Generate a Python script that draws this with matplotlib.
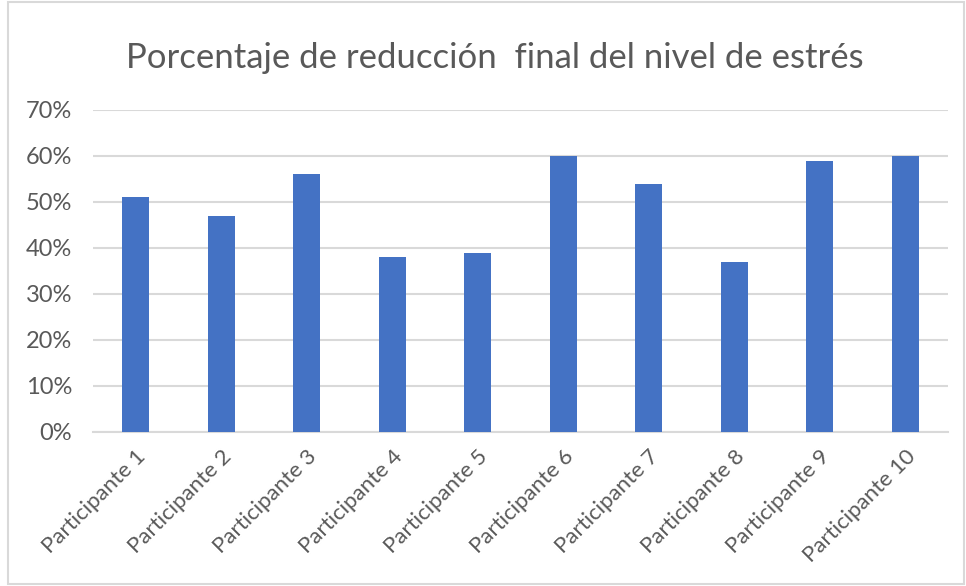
import matplotlib.pyplot as plt
from matplotlib.patches import Rectangle
from matplotlib.ticker import PercentFormatter

participantes = ["Participante 1", "Participante 2", "Participante 3", "Participante 4",
                 "Participante 5", "Participante 6", "Participante 7", "Participante 8",
                 "Participante 9", "Participante 10"]
reduccion = [0.51, 0.47, 0.56, 0.38, 0.39, 0.60, 0.54, 0.37, 0.59, 0.60]
y_ticks = [0.0, 0.1, 0.2, 0.3, 0.4, 0.5, 0.6, 0.7]

plt.rcParams['font.family'] = ['Lato', 'DejaVu Sans']

fig = plt.figure(figsize=(9.66, 5.86), dpi=100)
ax = fig.add_axes([0.0963, 0.2628, 0.8851, 0.5495])

ax.bar(range(len(participantes)), reduccion, width=0.32, color="#4472C4", zorder=3)

ax.set_xlim(-0.5, len(participantes) - 0.5)
ax.set_ylim(0, 0.7)
ax.set_yticks(y_ticks)
ax.yaxis.set_major_formatter(PercentFormatter(1.0, decimals=0))
ax.grid(axis="y", color="#D9D9D9", linewidth=1.5, zorder=0)
ax.set_axisbelow(True)

for s in ["top", "right", "left"]:
    ax.spines[s].set_visible(False)
ax.spines["bottom"].set_color("#D9D9D9")
ax.spines["bottom"].set_linewidth(1.5)

ax.set_xticks(range(len(participantes)))
ax.set_xticklabels(participantes, rotation=45, ha="right", rotation_mode="anchor")
ax.tick_params(axis="x", length=0, colors="#595959", labelsize=16, pad=10)
ax.tick_params(axis="y", length=0, colors="#595959", labelsize=17, pad=15)

fig.text(0.512, 0.901, "Porcentaje de reducción  final del nivel de estrés",
         ha="center", va="center", fontsize=25, color="#595959")

fig.patches.append(Rectangle((0.008, 0.003), 0.99, 0.994, transform=fig.transFigure,
                             fill=False, edgecolor="#D9D9D9", linewidth=1.5))

fig.savefig("out.png", dpi=100, facecolor="white")
